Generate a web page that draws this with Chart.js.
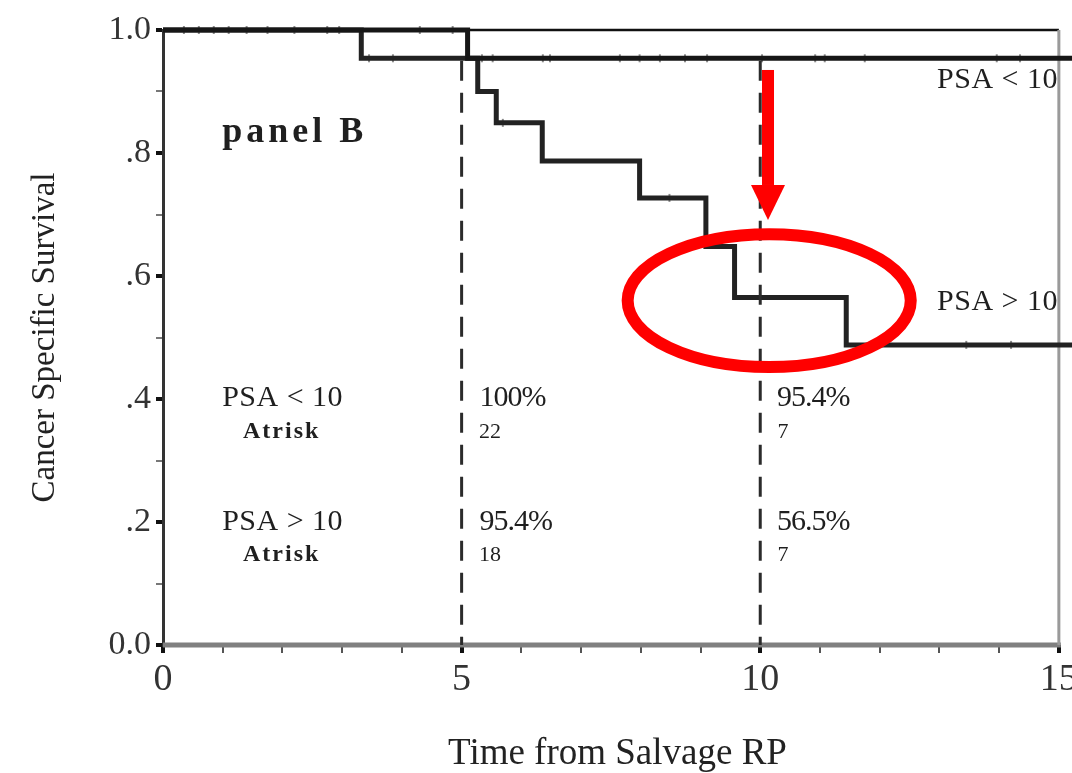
<!DOCTYPE html>
<html>
<head>
<meta charset="utf-8">
<script src="https://cdn.jsdelivr.net/npm/chart.js@4.4.1/dist/chart.umd.min.js"></script>
<style>
  html, body { margin: 0; padding: 0; background: #ffffff; }
  #wrap { width: 1072px; height: 773px; position: relative; }
</style>
</head>
<body>
<div id="wrap"><canvas id="km"></canvas></div>
<script>
// Follow-up horizon (years)
const timeMax = 15.22;

// Kaplan-Meier curves: time of each step and survival after the step
const psaLowTimes  = [0, 5.10, timeMax];
const psaLowSurv   = [1.0, 0.954, 0.954];
const psaHighTimes = [0, 3.32, 5.27, 5.58, 6.35, 7.98, 9.09, 9.57, 11.44, timeMax];
const psaHighSurv  = [1.0, 0.954, 0.900, 0.849, 0.787, 0.727, 0.648, 0.565, 0.488, 0.488];

// Censored observations
const psaLowCensorTimes = [0.35, 0.6, 0.85, 1.1, 1.4, 1.75, 2.2, 2.75, 2.95, 4.3, 4.85,
                           5.34, 5.52, 6.36, 6.48, 7.65, 7.98, 8.32, 8.74, 9.11, 10.03,
                           10.92, 11.08, 11.75, 13.96, 14.35];
const psaLowCensorSurv  = [1, 1, 1, 1, 1, 1, 1, 1, 1, 1, 1,
                           0.954, 0.954, 0.954, 0.954, 0.954, 0.954, 0.954, 0.954, 0.954, 0.954,
                           0.954, 0.954, 0.954, 0.954, 0.954];
const psaHighCensorTimes = [3.45, 3.85, 5.69, 8.48, 13.45, 14.2];
const psaHighCensorSurv  = [0.954, 0.954, 0.849, 0.727, 0.488, 0.488];

// Landmark times (years)
const landmarkTimes = [5, 10];

// Axis ticks
const xTickValues = [0, 5, 10, 15];
const xTickLabels = ['0', '5', '10', '15'];
const yTickValues = [0, 0.2, 0.4, 0.6, 0.8, 1.0];
const yTickLabels = ['0.0', '.2', '.4', '.6', '.8', '1.0'];

// Landmark table
const groupLabels = ['PSA < 10', 'PSA > 10'];
const survAt5     = ['100%', '95.4%'];
const survAt10    = ['95.4%', '56.5%'];
const atRisk5     = ['22', '18'];
const atRisk10    = ['7', '7'];
const atRiskLabel = 'Atrisk';
const panelLabel  = 'panel B';

const toPoints = (ts, ss) => ts.map((t, i) => ({ x: t, y: ss[i] }));

const SERIF = "'Liberation Serif', 'DejaVu Serif', serif";
const INK = '#1f1f1f';

// Frame, landmark table, curve labels and highlight marks
const decorPlugin = {
  id: 'decor',
  beforeDatasetsDraw(chart) {
    const { ctx, scales: { x, y } } = chart;
    ctx.save();
    // bottom axis line, from 0 to 15 years
    ctx.strokeStyle = '#808080';
    ctx.lineWidth = 5;
    ctx.beginPath();
    ctx.moveTo(x.getPixelForValue(0), y.getPixelForValue(0));
    ctx.lineTo(x.getPixelForValue(15) + 2, y.getPixelForValue(0));
    ctx.stroke();
    // top frame line
    ctx.strokeStyle = '#111';
    ctx.lineWidth = 2.5;
    ctx.beginPath();
    ctx.moveTo(x.getPixelForValue(0), y.getPixelForValue(1));
    ctx.lineTo(x.getPixelForValue(15), y.getPixelForValue(1));
    ctx.stroke();
    // right frame line
    ctx.strokeStyle = '#9a9a9a';
    ctx.lineWidth = 3;
    ctx.beginPath();
    ctx.moveTo(x.getPixelForValue(15), y.getPixelForValue(1));
    ctx.lineTo(x.getPixelForValue(15), y.getPixelForValue(0));
    ctx.stroke();
    ctx.restore();
  },
  afterDatasetsDraw(chart) {
    const { ctx, scales: { x, y } } = chart;
    const px = v => x.getPixelForValue(v);
    const py = v => y.getPixelForValue(v);
    ctx.save();
    ctx.fillStyle = INK;
    ctx.textBaseline = 'middle';
    ctx.textAlign = 'left';

    // panel label
    ctx.font = `bold 36px ${SERIF}`;
    ctx.letterSpacing = '4px';
    ctx.fillText(panelLabel, px(0.99), py(0.833));

    // curve labels
    ctx.font = `30px ${SERIF}`;
    ctx.letterSpacing = '0.5px';
    ctx.fillText(groupLabels[0], px(12.96), py(0.919));
    ctx.fillText(groupLabels[1], px(12.96), py(0.558));

    // landmark table
    const rowY = [0.402, 0.200];
    const riskY = [0.346, 0.146];
    for (let i = 0; i < 2; i++) {
      ctx.font = `30px ${SERIF}`;
      ctx.letterSpacing = '0.5px';
      ctx.fillText(groupLabels[i], px(0.99), py(rowY[i]));
      ctx.letterSpacing = '-1px';
      ctx.fillText(survAt5[i], px(5.30), py(rowY[i]));
      ctx.fillText(survAt10[i], px(10.28), py(rowY[i]));
      ctx.font = `bold 24px ${SERIF}`;
      ctx.letterSpacing = '2px';
      ctx.fillText(atRiskLabel, px(1.34), py(riskY[i]));
      ctx.letterSpacing = '0px';
      ctx.font = `22px ${SERIF}`;
      ctx.fillText(atRisk5[i], px(5.29), py(riskY[i]));
      ctx.fillText(atRisk10[i], px(10.29), py(riskY[i]));
    }

    // red highlight: arrow pointing at the 10-year landmark
    const ax = px(10.13);
    ctx.fillStyle = '#ff0000';
    ctx.fillRect(ax - 6, py(0.935), 12, py(0.748) - py(0.935));
    ctx.beginPath();
    ctx.moveTo(ax - 17, py(0.748));
    ctx.lineTo(ax + 17, py(0.748));
    ctx.lineTo(ax, py(0.691));
    ctx.closePath();
    ctx.fill();

    // red ellipse around the PSA > 10 step at 10 years
    const cx = px(10.15), cy = py(0.560);
    const rx = px(10.15 + 2.37) - cx;
    const ry = py(0.560 - 0.108) - cy;
    ctx.strokeStyle = '#ff0000';
    ctx.lineWidth = 12;
    ctx.beginPath();
    ctx.ellipse(cx, cy, rx, ry, 0, 0, Math.PI * 2);
    ctx.stroke();
    ctx.restore();
  }
};

const censorStyle = {
  type: 'scatter',
  showLine: false,
  pointStyle: 'line',
  rotation: 90,
  pointRadius: 4,
  borderColor: '#8a8a8a',
  borderWidth: 2,
  clip: false
};

const landmarkSets = landmarkTimes.map(t => ({
  type: 'line',
  data: [{ x: t, y: 0.95 }, { x: t, y: 0 }],
  borderColor: '#2b2b2b',
  borderWidth: 3,
  borderDash: [20, 12],
  pointRadius: 0,
  fill: false
}));

new Chart(document.getElementById('km'), {
  type: 'line',
  data: {
    datasets: [
      ...landmarkSets,
      {
        label: 'PSA < 10',
        data: toPoints(psaLowTimes, psaLowSurv),
        stepped: true,
        borderColor: '#161616',
        borderWidth: 5,
        pointRadius: 0,
        fill: false,
        clip: false
      },
      {
        label: 'PSA > 10',
        data: toPoints(psaHighTimes, psaHighSurv),
        stepped: true,
        borderColor: '#222222',
        borderWidth: 5,
        pointRadius: 0,
        fill: false,
        clip: false
      },
      { ...censorStyle, data: toPoints(psaLowCensorTimes, psaLowCensorSurv) },
      { ...censorStyle, data: toPoints(psaHighCensorTimes, psaHighCensorSurv) }
    ]
  },
  options: {
    responsive: true,
    maintainAspectRatio: false,
    animation: false,
    layout: { autoPadding: false, padding: { top: 30, right: 0, bottom: 0, left: 0 } },
    plugins: { legend: { display: false }, tooltip: { enabled: false } },
    scales: {
      x: {
        type: 'linear',
        min: 0,
        max: timeMax,
        afterBuildTicks: s => { s.ticks = Array.from({ length: 16 }, (_, i) => ({ value: i })); },
        afterFit: s => { s.height = 128; s.paddingLeft = 0; s.paddingRight = 0; },
        ticks: {
          autoSkip: false,
          maxRotation: 0,
          padding: 4,
          color: '#333',
          font: { family: SERIF, size: 38 },
          callback: v => { const k = xTickValues.indexOf(v); return k >= 0 ? xTickLabels[k] : ''; }
        },
        grid: {
          drawOnChartArea: false,
          drawTicks: true,
          tickLength: 8,
          color: c => (c.tick && c.tick.value % 5 === 0) ? '#111' : '#555',
          lineWidth: c => (c.tick && c.tick.value % 5 === 0) ? 4 : 2
        },
        border: { display: false },
        title: {
          display: true,
          text: 'Time from Salvage RP',
          color: '#222',
          font: { family: SERIF, size: 37, lineHeight: 1 },
          padding: { top: 0, bottom: 0 }
        }
      },
      y: {
        type: 'linear',
        min: 0,
        max: 1,
        afterBuildTicks: s => { s.ticks = Array.from({ length: 11 }, (_, i) => ({ value: i / 10 })); },
        afterFit: s => { s.width = 163; s.paddingTop = 0; s.paddingBottom = 0; },
        ticks: {
          autoSkip: false,
          padding: 5,
          color: '#333',
          font: { family: SERIF, size: 34 },
          callback: v => {
            const k = yTickValues.findIndex(t => Math.abs(t - v) < 1e-6);
            return k >= 0 ? yTickLabels[k] : '';
          }
        },
        grid: {
          drawOnChartArea: false,
          drawTicks: true,
          tickLength: 7,
          color: c => (c.tick && Math.round(c.tick.value * 10) % 2 === 0) ? '#111' : '#777',
          lineWidth: c => (c.tick && Math.round(c.tick.value * 10) % 2 === 0) ? 4 : 2
        },
        border: { display: true, color: '#333', width: 3 },
        title: {
          display: true,
          text: 'Cancer Specific Survival',
          color: '#222',
          font: { family: SERIF, size: 33, lineHeight: 1 },
          padding: { top: 29, bottom: 0 }
        }
      }
    }
  },
  plugins: [decorPlugin]
});
</script>
</body>
</html>
